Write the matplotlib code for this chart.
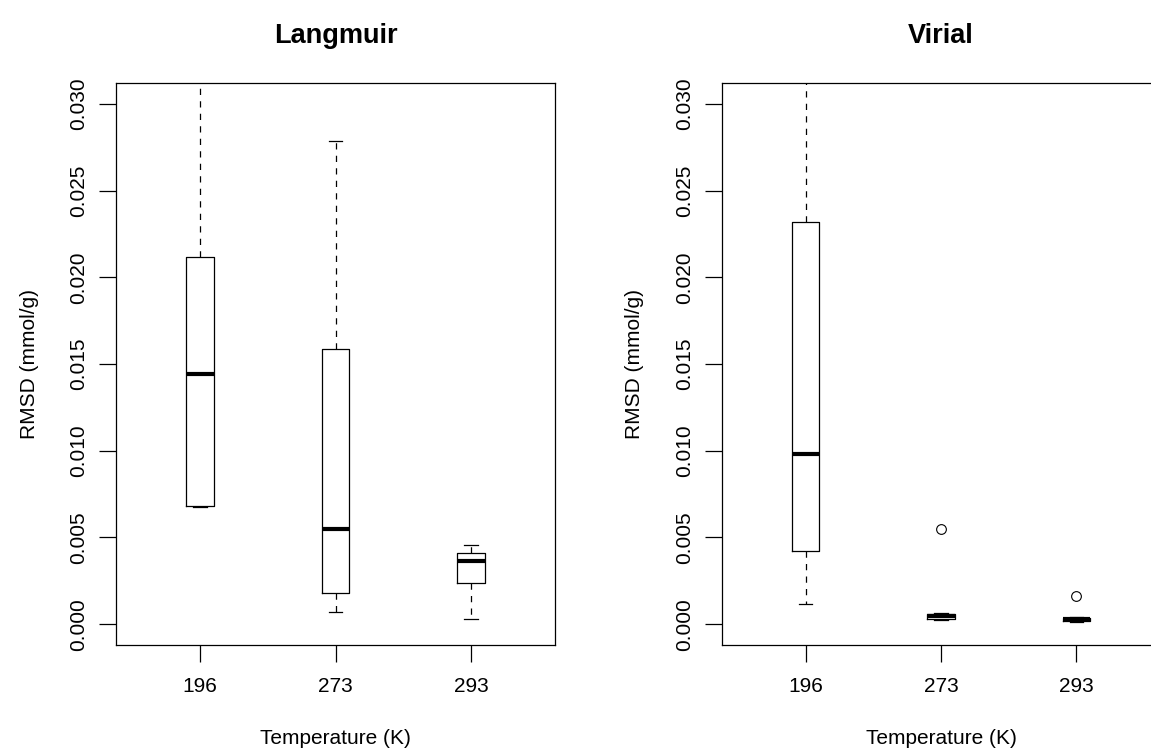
import matplotlib
matplotlib.use("Agg")
import matplotlib.pyplot as plt

# valores (RMSD em mmol/g)
temperaturas = ["196", "273", "293"]

langmuir_q1 = [0.00679, 0.00179, 0.00235]
langmuir_med = [0.01442, 0.00551, 0.00363]
langmuir_q3 = [0.02115, 0.01586, 0.00412]
langmuir_lo = [0.00675, 0.00073, 0.00031]
langmuir_hi = [0.0400, 0.02788, 0.00454]
langmuir_out = [[], [], []]

virial_q1 = [0.00420, 0.00030, 0.00016]
virial_med = [0.00982, 0.00046, 0.00028]
virial_q3 = [0.02319, 0.00060, 0.00038]
virial_lo = [0.00115, 0.00024, 0.00012]
virial_hi = [0.0400, 0.00064, 0.00040]
virial_out = [[], [0.00551], [0.00162]]

plt.rcParams['font.family'] = ['Liberation Sans', 'DejaVu Sans']


def caixas(q1, med, q3, lo, hi, out):
    stats = []
    for i in range(len(temperaturas)):
        stats.append({'q1': q1[i], 'med': med[i], 'q3': q3[i],
                      'whislo': lo[i], 'whishi': hi[i], 'fliers': out[i],
                      'label': temperaturas[i]})
    return stats


def grafico(ax, titulo, stats):
    ax.bxp(stats, positions=[1, 2, 3], widths=0.205, showfliers=True,
           boxprops=dict(color='black', linewidth=0.9),
           medianprops=dict(color='black', linewidth=3, solid_capstyle='butt'),
           whiskerprops=dict(color='black', linewidth=0.9, linestyle=(0, (5, 5))),
           capprops=dict(color='black', linewidth=0.9),
           flierprops=dict(marker='o', markerfacecolor='none', markeredgecolor='black',
                           markersize=7, markeredgewidth=0.8),
           capwidths=0.1)
    ax.set_xlim(0.38, 3.62)
    ax.set_ylim(-0.0012, 0.0312)
    ax.set_yticks([0.0, 0.005, 0.010, 0.015, 0.020, 0.025, 0.030])
    ax.set_yticklabels(['0.000', '0.005', '0.010', '0.015', '0.020', '0.025', '0.030'],
                       rotation=90, va='center')
    ax.tick_params(axis='both', labelsize=15, length=12, width=0.9, pad=8)
    ax.tick_params(axis='x', pad=11)
    for s in ax.spines.values():
        s.set_linewidth(0.9)
    ax.set_title(titulo, fontsize=19.5, fontweight='bold', pad=29)
    ax.set_xlabel('Temperature (K)', fontsize=15, labelpad=24)
    ax.set_ylabel('RMSD (mmol/g)', fontsize=15, labelpad=22)


fig = plt.figure(figsize=(11.51, 7.51), dpi=100)
ax1 = fig.add_axes([116 / 1151, 106 / 751, 439 / 1151, 562 / 751])
ax2 = fig.add_axes([721.5 / 1151, 106 / 751, 439 / 1151, 562 / 751])

grafico(ax1, 'Langmuir', caixas(langmuir_q1, langmuir_med, langmuir_q3,
                                 langmuir_lo, langmuir_hi, langmuir_out))
grafico(ax2, 'Virial', caixas(virial_q1, virial_med, virial_q3,
                              virial_lo, virial_hi, virial_out))

fig.savefig('out.png', dpi=100)
